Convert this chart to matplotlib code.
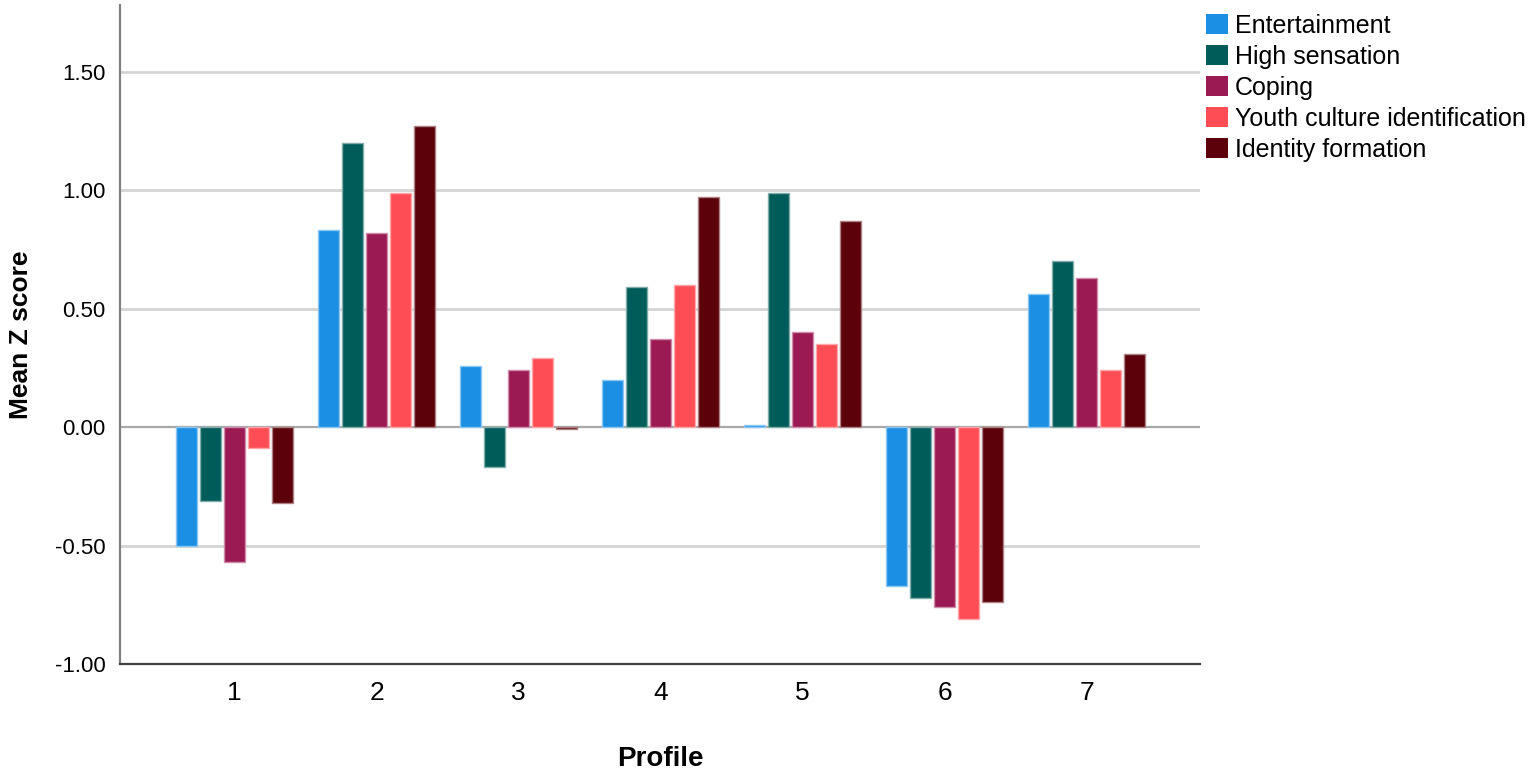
import numpy as np
import matplotlib.pyplot as plt

# data
profiles = ['1', '2', '3', '4', '5', '6', '7']
series_names = ['Entertainment', 'High sensation', 'Coping',
                'Youth culture identification', 'Identity formation']
entertainment = [-0.50, 0.83, 0.26, 0.20, 0.01, -0.67, 0.56]
high_sensation = [-0.31, 1.20, -0.17, 0.59, 0.99, -0.72, 0.70]
coping = [-0.57, 0.82, 0.24, 0.37, 0.40, -0.76, 0.63]
youth_culture = [-0.09, 0.99, 0.29, 0.60, 0.35, -0.81, 0.24]
identity = [-0.32, 1.27, -0.01, 0.97, 0.87, -0.74, 0.31]
y_ticks = [-1.0, -0.5, 0.0, 0.5, 1.0, 1.5]

colors = ['#1A8FE3', '#005C58', '#9C1A54', '#FF4D55', '#5C000A']
edge_colors = ['#8CC7F1', '#80ADAB', '#CD8CA9', '#FFA6AA', '#AD8084']

plt.rcParams['font.family'] = ['Liberation Sans', 'DejaVu Sans']

fig = plt.figure(figsize=(15.35, 7.73), dpi=100)
ax = fig.add_axes([0.078, 0.141, 0.704, 0.852])

x = np.arange(1, len(profiles) + 1)
pitch = 0.169
width = 0.145
all_series = [entertainment, high_sensation, coping, youth_culture, identity]
for i, (vals, name) in enumerate(zip(all_series, series_names)):
    ax.bar(x + (i - 2) * pitch, vals, width, color=colors[i], label=name,
           edgecolor=edge_colors[i], linewidth=1.0, zorder=3)

# gridlines
for yt in y_ticks:
    if yt == 0:
        ax.axhline(yt, color='#A8A8A8', linewidth=1.6, zorder=2)
    elif yt > -1.0:
        ax.axhline(yt, color='#D4D4D4', linewidth=2.0, zorder=1)

ax.set_xlim(0.19, 7.8)
ax.set_ylim(-1.0, 1.78)
ax.set_xticks(x)
ax.set_xticklabels(profiles, fontsize=19)
ax.set_yticks(y_ticks)
ax.set_yticklabels([f'{v:.2f}' for v in y_ticks], fontsize=16)
ax.tick_params(length=0, pad=10)
ax.tick_params(axis='x', pad=12)

ax.spines['top'].set_visible(False)
ax.spines['right'].set_visible(False)
ax.spines['left'].set_color('#808080')
ax.spines['left'].set_linewidth(1.6)
ax.spines['bottom'].set_color('#404040')
ax.spines['bottom'].set_linewidth(1.6)

ax.set_xlabel('Profile', fontsize=20, fontweight='bold', labelpad=30)
ax.set_ylabel('Mean Z score', fontsize=19, fontweight='bold', labelpad=16)

leg = fig.legend(loc='upper left', bbox_to_anchor=(0.777, 1.0), frameon=False,
                 fontsize=18, handlelength=0.85, handleheight=0.85,
                 handletextpad=0.3, labelspacing=0.28, borderaxespad=0.15)
for h in leg.legend_handles:
    h.set_edgecolor('none')

fig.savefig('out.png', dpi=100)
